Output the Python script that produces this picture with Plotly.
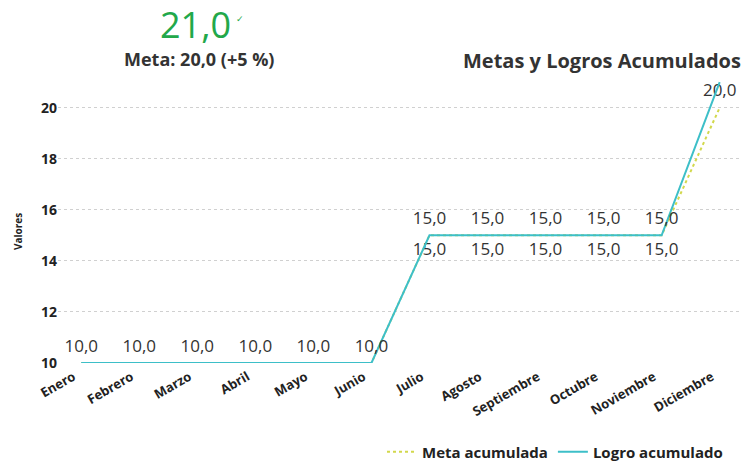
import plotly.graph_objects as go

meses = ["Enero", "Febrero", "Marzo", "Abril", "Mayo", "Junio", "Julio",
         "Agosto", "Septiembre", "Octubre", "Noviembre", "Diciembre"]
meta_acumulada = [10, 10, 10, 10, 10, 10, 15, 15, 15, 15, 15, 20]
logro_acumulado = [10, 10, 10, 10, 10, 10, 15, 15, 15, 15, 15, 21]
y_ticks = [10, 12, 14, 16, 18, 20]

def fmt(v):
    return f"{v:.1f}".replace(".", ",")

# which data labels the original shows, and where
meta_text = ["" if i < 6 else fmt(v) for i, v in enumerate(meta_acumulada)]
meta_pos = ["bottom center" if i < 11 else "top center" for i in range(12)]
logro_text = [fmt(v) if i < 11 else "" for i, v in enumerate(logro_acumulado)]

x_idx = list(range(len(meses)))
FONT = "Open Sans, Noto Sans, sans-serif"
label_font = dict(family=FONT, size=17, color="#333333")

W, H = 750, 465
L, R, T, B = 58, 10, 77, 102
PW, PH = W - L - R, H - T - B

def px(xp):
    return (xp - L) / PW

def py(yp):
    return (H - B - yp) / PH

hidden_marker = dict(size=10, color="rgba(0,0,0,0)", line=dict(width=0))

fig = go.Figure()
fig.add_trace(go.Scatter(
    x=x_idx, y=meta_acumulada, name="Meta acumulada", mode="lines+markers+text",
    line=dict(color="#d2d84c", width=2, dash="dot"),
    marker=hidden_marker,
    text=meta_text, textposition=meta_pos, textfont=label_font,
    cliponaxis=False, hoverinfo="skip",
))
fig.add_trace(go.Scatter(
    x=x_idx, y=logro_acumulado, name="Logro acumulado", mode="lines+markers+text",
    line=dict(color="#3dbfc8", width=2),
    marker=hidden_marker,
    text=logro_text, textposition="top center", textfont=label_font,
    cliponaxis=False, hoverinfo="skip",
))

fig.update_layout(
    width=W, height=H,
    margin=dict(l=L, r=R, t=T, b=B),
    paper_bgcolor="white", plot_bgcolor="white",
    font=dict(family=FONT, color="#222222"),
    showlegend=True,
    legend=dict(orientation="h", xref="container", yref="container",
                x=728 / W, xanchor="right",
                y=(H - 452) / H, yanchor="middle",
                font=dict(size=15, color="#222222", family=FONT, weight="bold"),
                itemwidth=30, traceorder="normal"),
    xaxis=dict(
        tickmode="array", tickvals=x_idx, ticktext=meses, tickangle=-30,
        range=[-0.4, 11.35], showgrid=False, zeroline=False, showline=False,
        automargin=False, ticks="", ticklabelshift=-8, ticklabelstandoff=3,
        tickfont=dict(size=13, color="#222222", weight="bold"),
    ),
    yaxis=dict(
        tickvals=y_ticks, range=[10, 21.2], showgrid=True,
        gridcolor="#d0d0d0", griddash="dot", gridwidth=1, zeroline=False,
        showline=False, automargin=False, ticks="",
        tickfont=dict(size=14, color="#222222", weight="bold"),
    ),
)

fig.add_annotation(text="Valores", xref="paper", yref="paper",
                   x=px(18), y=py(232), xanchor="center", yanchor="middle", textangle=-90,
                   showarrow=False, font=dict(size=10, color="#222222", weight="bold"))
fig.add_annotation(text="<b>Metas y Logros Acumulados</b>", xref="paper", yref="paper",
                   x=px(743), y=py(60), xanchor="right", yanchor="middle", showarrow=False,
                   font=dict(size=20, color="#333333"))
fig.add_annotation(text="21,0", xref="paper", yref="paper",
                   x=px(195), y=py(25), xanchor="center", yanchor="middle",
                   showarrow=False, font=dict(size=36, color="#22a84a"))
fig.add_annotation(text="✓", xref="paper", yref="paper",
                   x=px(240), y=py(18), xanchor="center", yanchor="middle",
                   showarrow=False, font=dict(size=9, color="#22a84a"))
fig.add_annotation(text="<b>Meta: 20,0 (+5 %)</b>", xref="paper", yref="paper",
                   x=px(199), y=py(59), xanchor="center", yanchor="middle",
                   showarrow=False, font=dict(size=18, color="#333333"))

fig.write_html("out.html", config={"displayModeBar": False},
               post_script="document.body.style.margin='0px';")
